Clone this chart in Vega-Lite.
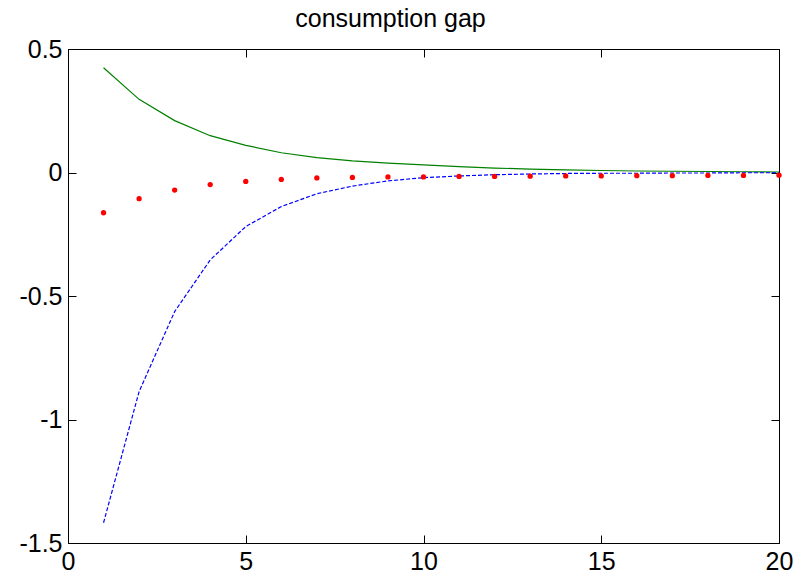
{
  "$schema": "https://vega.github.io/schema/vega-lite/v6.json",
  "width": 711,
  "height": 494,
  "autosize": {"type": "none"},
  "padding": {"left": 68, "top": 49, "right": 17, "bottom": 40},
  "background": "white",
  "title": {
    "text": "consumption gap",
    "font": "Liberation Sans",
    "fontSize": 25,
    "fontWeight": "normal",
    "color": "black",
    "anchor": "middle",
    "dx": -33,
    "offset": 5
  },
  "config": {
    "view": {"stroke": "black", "strokeWidth": 1},
    "axis": {
      "domain": false,
      "grid": false,
      "tickColor": "black",
      "tickSize": -8,
      "labelFont": "Liberation Sans",
      "labelFontSize": 25,
      "labelColor": "black",
      "labelFlush": false,
      "labelOverlap": false,
      "title": null
    }
  },
  "data": {
    "values": [
      {"t": 1, "series": "green", "value": 0.424},
      {"t": 2, "series": "green", "value": 0.296},
      {"t": 3, "series": "green", "value": 0.21},
      {"t": 4, "series": "green", "value": 0.149},
      {"t": 5, "series": "green", "value": 0.11},
      {"t": 6, "series": "green", "value": 0.08},
      {"t": 7, "series": "green", "value": 0.06},
      {"t": 8, "series": "green", "value": 0.047},
      {"t": 9, "series": "green", "value": 0.038},
      {"t": 10, "series": "green", "value": 0.031},
      {"t": 11, "series": "green", "value": 0.024},
      {"t": 12, "series": "green", "value": 0.018},
      {"t": 13, "series": "green", "value": 0.014},
      {"t": 14, "series": "green", "value": 0.011},
      {"t": 15, "series": "green", "value": 0.008},
      {"t": 16, "series": "green", "value": 0.006},
      {"t": 17, "series": "green", "value": 0.005},
      {"t": 18, "series": "green", "value": 0.004},
      {"t": 19, "series": "green", "value": 0.003},
      {"t": 20, "series": "green", "value": 0.002},
      {"t": 1, "series": "blue", "value": -1.418},
      {"t": 2, "series": "blue", "value": -0.887},
      {"t": 3, "series": "blue", "value": -0.563},
      {"t": 4, "series": "blue", "value": -0.354},
      {"t": 5, "series": "blue", "value": -0.219},
      {"t": 6, "series": "blue", "value": -0.138},
      {"t": 7, "series": "blue", "value": -0.086},
      {"t": 8, "series": "blue", "value": -0.055},
      {"t": 9, "series": "blue", "value": -0.034},
      {"t": 10, "series": "blue", "value": -0.021},
      {"t": 11, "series": "blue", "value": -0.014},
      {"t": 12, "series": "blue", "value": -0.009},
      {"t": 13, "series": "blue", "value": -0.006},
      {"t": 14, "series": "blue", "value": -0.004},
      {"t": 15, "series": "blue", "value": -0.003},
      {"t": 16, "series": "blue", "value": -0.003},
      {"t": 17, "series": "blue", "value": -0.002},
      {"t": 18, "series": "blue", "value": -0.002},
      {"t": 19, "series": "blue", "value": -0.001},
      {"t": 20, "series": "blue", "value": -0.001},
      {"t": 1, "series": "red", "value": -0.163},
      {"t": 2, "series": "red", "value": -0.106},
      {"t": 3, "series": "red", "value": -0.071},
      {"t": 4, "series": "red", "value": -0.049},
      {"t": 5, "series": "red", "value": -0.036},
      {"t": 6, "series": "red", "value": -0.028},
      {"t": 7, "series": "red", "value": -0.022},
      {"t": 8, "series": "red", "value": -0.02},
      {"t": 9, "series": "red", "value": -0.018},
      {"t": 10, "series": "red", "value": -0.018},
      {"t": 11, "series": "red", "value": -0.016},
      {"t": 12, "series": "red", "value": -0.016},
      {"t": 13, "series": "red", "value": -0.015},
      {"t": 14, "series": "red", "value": -0.014},
      {"t": 15, "series": "red", "value": -0.014},
      {"t": 16, "series": "red", "value": -0.013},
      {"t": 17, "series": "red", "value": -0.013},
      {"t": 18, "series": "red", "value": -0.012},
      {"t": 19, "series": "red", "value": -0.012},
      {"t": 20, "series": "red", "value": -0.011}
    ]
  },
  "resolve": {"axis": {"x": "independent", "y": "independent"}},
  "layer": [
    {
      "transform": [{"filter": "datum.series == 'green'"}],
      "mark": {"type": "line", "color": "#008000", "strokeWidth": 1.2},
      "encoding": {
        "x": {
          "field": "t", "type": "quantitative",
          "scale": {"domain": [0, 20], "nice": false, "zero": false},
          "axis": {"orient": "bottom", "values": [0, 5, 10, 15, 20], "labelPadding": 14, "labelExpr": "toString(datum.value)"}
        },
        "y": {
          "field": "value", "type": "quantitative",
          "scale": {"domain": [-1.5, 0.5], "nice": false, "zero": false},
          "axis": {"orient": "left", "values": [-1.5, -1, -0.5, 0, 0.5], "labelPadding": 14, "labelExpr": "toString(datum.value)"}
        }
      }
    },
    {
      "transform": [{"filter": "datum.series == 'blue'"}],
      "mark": {"type": "line", "color": "#0000ff", "strokeWidth": 1.2, "strokeDash": [4, 2]},
      "encoding": {
        "x": {
          "field": "t", "type": "quantitative",
          "axis": {"orient": "top", "values": [0, 5, 10, 15, 20], "labels": false}
        },
        "y": {
          "field": "value", "type": "quantitative",
          "axis": {"orient": "right", "values": [-1.5, -1, -0.5, 0, 0.5], "labels": false}
        }
      }
    },
    {
      "transform": [{"filter": "datum.series == 'red'"}],
      "mark": {"type": "point", "filled": true, "color": "#ff0000", "size": 28, "opacity": 1},
      "encoding": {
        "x": {"field": "t", "type": "quantitative", "axis": null},
        "y": {"field": "value", "type": "quantitative", "axis": null}
      }
    }
  ]
}
